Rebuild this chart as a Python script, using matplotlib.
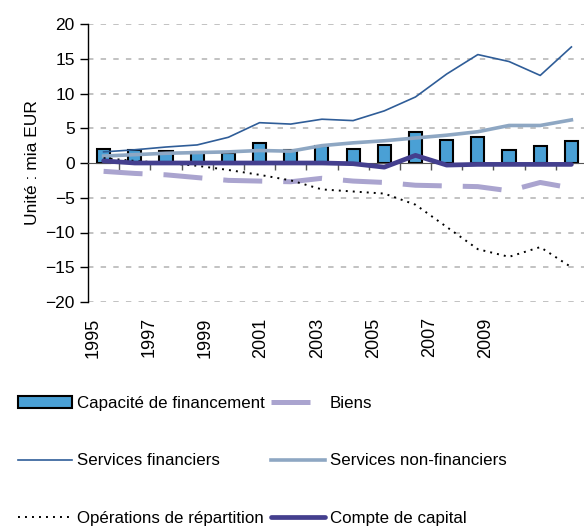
import numpy as np
import matplotlib
matplotlib.use("Agg")
import matplotlib.pyplot as plt
from matplotlib.transforms import blended_transform_factory

plt.rcParams['font.family'] = ['Liberation Sans', 'DejaVu Sans']

years = list(range(1995, 2011))
capacite = [2.0, 1.9, 1.7, 1.6, 1.5, 2.9, 1.9, 2.5, 2.0, 2.6, 4.5, 3.3, 3.7, 1.9, 2.4, 3.1]
biens = [-1.2, -1.5, -1.7, -2.1, -2.5, -2.6, -2.7, -2.2, -2.6, -2.8, -3.2, -3.3, -3.4, -4.0, -2.8, -3.6]
serv_fin = [1.6, 1.9, 2.3, 2.6, 3.7, 5.8, 5.6, 6.3, 6.1, 7.5, 9.5, 12.8, 15.6, 14.6, 12.6, 16.7]
serv_nonfin = [1.0, 1.2, 1.4, 1.5, 1.6, 1.8, 1.7, 2.5, 2.9, 3.2, 3.6, 4.0, 4.5, 5.4, 5.4, 6.2]
operations = [0.7, 0.3, 0.0, -0.4, -1.0, -1.7, -2.5, -3.8, -4.1, -4.4, -6.0, -9.2, -12.4, -13.5, -12.1, -15.0]
capital = [0.3, 0.0, 0.0, 0.0, 0.0, 0.0, 0.0, 0.0, -0.1, -0.6, 1.1, -0.3, -0.2, -0.2, -0.2, -0.2]
tick_years = [1995, 1997, 1999, 2001, 2003, 2005, 2007, 2009]

x = np.arange(len(years))

fig = plt.figure(figsize=(5.84, 5.29), dpi=100)
ax = fig.add_axes([88 / 584, 1 - 302 / 529, 499 / 584, 278 / 529])

# grid lines (not at zero)
for v in [-20, -15, -10, -5, 5, 10, 15, 20]:
    ax.axhline(v, color='#bdbdbd', lw=1.3, dashes=(3, 4), zorder=0)

h_cap = ax.bar(x, capacite, width=0.42, color='#4aa0d5', edgecolor='black', lw=1.5,
               label='Capacité de financement', zorder=2)
h_biens, = ax.plot(x, biens, color='#aaa4cf', lw=3.6, label='Biens', zorder=3)
h_biens.set_dashes((7.8, 4.2))
h_biens.set_dash_capstyle('butt')
h_fin, = ax.plot(x, serv_fin, color='#2f5d98', lw=1.2, label='Services financiers', zorder=3)
h_nonfin, = ax.plot(x, serv_nonfin, color='#8ea7c3', lw=2.6,
                    label='Services non-financiers', zorder=3)
h_op, = ax.plot(x, operations, color='black', lw=1.4,
                label='Opérations de répartition', zorder=3)
h_op.set_dashes((1, 2.6))
h_capital, = ax.plot(x, capital, color='#443f8e', lw=3.4, solid_capstyle='round',
                     label='Compte de capital', zorder=4)

ax.set_xlim(-0.5, 15.5)
ax.set_ylim(-20, 20)
ax.set_yticks(range(-20, 21, 5))
ax.tick_params(axis='y', labelsize=12.5, length=6, width=1, direction='out')
ax.set_ylabel('Unité : mia EUR', fontsize=12.5, labelpad=4)

for s in ['top', 'right']:
    ax.spines[s].set_visible(False)
ax.spines['left'].set_linewidth(1)
ax.spines['bottom'].set_position(('data', 0))
ax.spines['bottom'].set_color('#555555')
ax.set_xticks(np.arange(0.5, 15.5, 1))
ax.tick_params(axis='x', length=5, width=1, color='#555555', labelbottom=False)

# year labels under the plot
tr = blended_transform_factory(ax.transData, ax.transAxes)
for y in tick_years:
    ax.text(years.index(y) * 0.9 - 0.35, -0.055, str(y), rotation=90, transform=tr,
            ha='center', va='top', fontsize=13)

# legend: filled column by column
handles = [h_cap, h_fin, h_op, h_biens, h_nonfin, h_capital]
labels = [h.get_label() for h in handles]
fig.legend(handles, labels,
           loc='upper left', bbox_to_anchor=(0.02, 0.264), ncol=2, frameon=False,
           fontsize=12.2, handlelength=3.15, handletextpad=0.3, columnspacing=0.4,
           labelspacing=2.5, borderaxespad=0)

fig.savefig('out.png', dpi=100)
